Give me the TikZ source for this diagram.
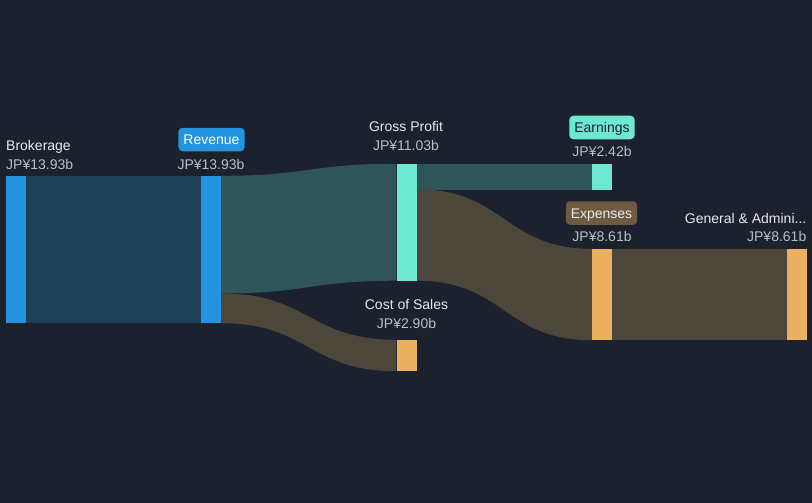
\documentclass[tikz,border=0pt]{standalone}
\usepackage{fontspec}
\setmainfont{Liberation Sans}
\usetikzlibrary{calc,backgrounds}
\definecolor{bg}{HTML}{1B212D}
\definecolor{cblue}{HTML}{2394DF}
\definecolor{cteal}{HTML}{6EE8D3}
\definecolor{corange}{HTML}{E8B060}
\definecolor{fblue}{HTML}{1E3F58}
\definecolor{fteal}{HTML}{2F5558}
\definecolor{fbrown}{HTML}{4C463B}
\definecolor{cbrownbox}{HTML}{6E5A40}
\definecolor{ctext}{HTML}{E8EAED}
\definecolor{cval}{HTML}{BBBFC6}
\tikzset{
  bar/.style={draw=none, inner sep=0pt, minimum width=20pt},
  lbl/.style={inner sep=0pt, text=ctext, font=\fontsize{14}{16}\selectfont, anchor=base},
  val/.style={inner sep=0pt, text=cval, font=\fontsize{14}{16}\selectfont, anchor=base},
  tagbox/.style={rounded corners=4pt, inner xsep=5pt, inner ysep=0pt, minimum height=23.5pt, font=\fontsize{14}{16}\selectfont, text depth=0pt, text height=10pt},
}
\begin{document}
\begin{tikzpicture}[x=1pt,y=-1pt]
\useasboundingbox (0,0) rectangle (812,503);
% bars
\node[bar, fill=cblue, minimum height=147pt] (brok) at (16,249.5) {};
\node[bar, fill=cblue, minimum height=147pt] (rev) at (211,249.5) {};
\node[bar, fill=cteal, minimum height=116.5pt] (gp) at (406.5,222.25) {};
\node[bar, fill=corange, minimum height=31pt] (cos) at (406.5,355.5) {};
\node[bar, fill=cteal, minimum height=25.5pt] (earn) at (602,176.75) {};
\node[bar, fill=corange, minimum height=91pt] (exp) at (602,294.5) {};
\node[bar, fill=corange, minimum height=91pt] (gen) at (797,294.5) {};
% split points
\coordinate (revsplit) at ($(rev.north east)!0.798!(rev.south east)$);
\coordinate (gpsplit) at ($(gp.north east)+(0,25.5)$);
% flows
\begin{scope}[on background layer]
\fill[bg] (0,0) rectangle (812,503);
\fill[fblue] (brok.north east) rectangle (rev.south west);
\fill[fteal] (rev.north east) .. controls +(87.5,0) and +(-87.5,0) .. (gp.north west)
  -- (gp.south west) .. controls +(-87.5,0) and +(87.5,0) .. (revsplit) -- cycle;
\fill[fbrown] (revsplit) .. controls +(87.5,0) and +(-87.5,0) .. (cos.north west)
  -- (cos.south west) .. controls +(-87.5,0) and +(87.5,0) .. (rev.south east) -- cycle;
\fill[fteal] (gp.north east) rectangle (earn.south west);
\fill[fbrown] (gpsplit) .. controls +(88,0) and +(-88,0) .. (exp.north west)
  -- (exp.south west) .. controls +(-88,0) and +(88,0) .. (gp.south east) -- cycle;
\fill[fbrown] (exp.north east) rectangle (gen.south west);
\end{scope}
% labels
\node[lbl, anchor=base west] (lbrok) at (6,150) {Brokerage};
\node[val, anchor=base west] (vbrok) at (6,169) {JP¥13.93b};
\node[tagbox, fill=cblue, text=white] (lrev) at (211.5,139.5) {Revenue};
\node[val] (vrev) at (211,169) {JP¥13.93b};
\node[lbl] (lgp) at (406,131.5) {Gross Profit};
\node[val] (vgp) at (406,150.5) {JP¥11.03b};
\node[lbl] (lcos) at (406.5,309) {Cost of Sales};
\node[val] (vcos) at (406.5,328) {JP¥2.90b};
\node[tagbox, fill=cteal, text=bg] (learn) at (602,127.5) {Earnings};
\node[val] (vearn) at (602,156.5) {JP¥2.42b};
\node[tagbox, fill=cbrownbox, text=ctext] (lexp) at (601.5,213) {Expenses};
\node[val] (vexp) at (602,241.5) {JP¥8.61b};
\node[lbl, anchor=base east] (lgen) at (806.5,223) {General \& Admini...};
\node[val, anchor=base east] (vgen) at (806.5,241.5) {JP¥8.61b};
\end{tikzpicture}
\end{document}
